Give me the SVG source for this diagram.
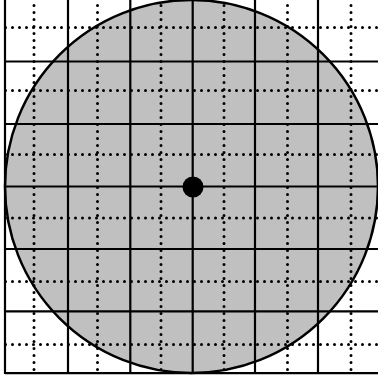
<svg xmlns="http://www.w3.org/2000/svg" width="378" height="379" viewBox="0 0 378 379">
<style>
.dot{stroke:#000;stroke-width:3;stroke-linecap:round;stroke-dasharray:0 7;fill:none}
.grid{stroke:#000;stroke-width:2.2;fill:none}
</style>
<rect width="378" height="379" fill="#fff"/>
<g id="disk">
<circle cx="191.5" cy="186.5" r="186.5" fill="#c0c0c0"/>
</g>
<g id="minor-grid" class="dot">
<path d="M34 5.5V373M97.5 5.5V373M161 5.5V373M224 5.5V373M287.5 5.5V373M351 5.5V373"/>
<path d="M5.5 27.5H378M5.5 90.5H378M5.5 154.5H378M5.5 218H378M5.5 281.5H378M5.5 344.5H378"/>
</g>
<g id="major-grid" class="grid">
<path d="M5 0V374M68 0V374M130.3 0V374M192.7 0V374M255 0V374M318 0V374"/>
<path d="M5 61.5H378M5 124H378M5 186.5H378M5 249H378M5 311.3H378M5 373.2H378"/>
</g>
<g id="outline">
<circle cx="191.5" cy="186.5" r="186.5" fill="none" stroke="#000" stroke-width="2.5"/>
</g>
<g id="center">
<circle cx="193" cy="187" r="10.5" fill="#000"/>
</g>
</svg>
